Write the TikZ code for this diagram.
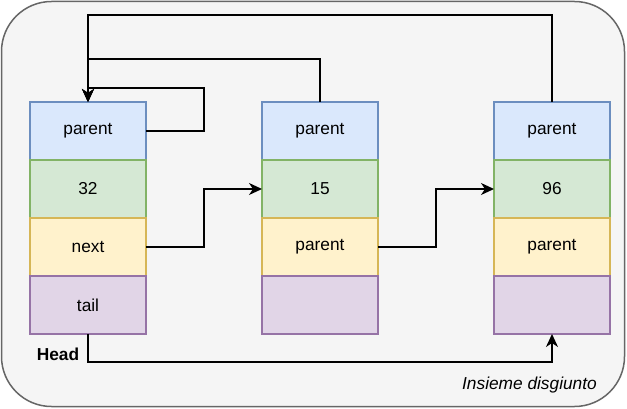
\documentclass[tikz,border=0pt]{standalone}
\usepackage{fontspec}
\setmainfont{Liberation Sans}
\usetikzlibrary{positioning,arrows.meta}
\definecolor{setfill}{HTML}{F5F5F5}
\definecolor{setline}{HTML}{666666}
\definecolor{bluefill}{HTML}{DAE8FC}
\definecolor{blueline}{HTML}{6C8EBF}
\definecolor{greenfill}{HTML}{D5E8D4}
\definecolor{greenline}{HTML}{82B366}
\definecolor{yellowfill}{HTML}{FFF2CC}
\definecolor{yellowline}{HTML}{D6B656}
\definecolor{purplefill}{HTML}{E1D5E7}
\definecolor{purpleline}{HTML}{9673A6}
\tikzstyle{cell} = [rectangle, minimum width=116pt, minimum height=58pt,
    inner sep=0, outer sep=0, line width=1.5pt, font=\fontsize{17.3}{20}\selectfont]
\tikzstyle{parentcell} = [cell, draw=blueline, fill=bluefill]
\tikzstyle{valuecell} = [cell, draw=greenline, fill=greenfill]
\tikzstyle{linkcell} = [cell, draw=yellowline, fill=yellowfill]
\tikzstyle{tailcell} = [cell, draw=purpleline, fill=purplefill]
\tikzstyle{setbox} = [draw=setline, fill=setfill, line width=1.5pt, rectangle,
    rounded corners=50pt, minimum width=623pt, minimum height=405pt, inner sep=0]
\tikzstyle{link} = [line width=1.5pt, -{Stealth[length=13pt,width=12pt,inset=4pt]}]

\begin{document}
\begin{tikzpicture}[x=1pt,y=1pt]
\useasboundingbox (0,0) rectangle (627,-409);
\node[setbox] (set) at (313,-204) {};

% first set element (head)
\node[parentcell] (p1) at (88,-131) {parent};
\node[valuecell, below=0pt of p1] (v1) {32};
\node[linkcell, below=0pt of v1] (n1) {next};
\node[tailcell, below=0pt of n1] (t1) {tail};

% second element
\node[parentcell] (p2) at (320,-131) {parent};
\node[valuecell, below=0pt of p2] (v2) {15};
\node[linkcell, below=0pt of v2] (n2) {parent};
\node[tailcell, below=0pt of n2] (t2) {};

% third element
\node[parentcell] (p3) at (552,-131) {parent};
\node[valuecell, below=0pt of p3] (v3) {96};
\node[linkcell, below=0pt of v3] (n3) {parent};
\node[tailcell, below=0pt of n3] (t3) {};

\node[font=\fontsize{17.3}{20}\selectfont\bfseries] (head) at (58,-354) {Head};
\node[anchor=east, inner sep=0, font=\fontsize{17.3}{20}\selectfont\itshape] (title) at (597,-385) {Insieme disgiunto};

% parent pointers
\draw[link] (p1.east) -- ++(58,0) -- ++(0,43) -| (p1.north);
\draw[link] (p2.north) -- ++(0,43) -| (p1.north);
\draw[link] (p3.north) -- ++(0,87) -| (p1.north);

% next pointers
\draw[link] (n1.east) -- ++(58,0) |- (v2.west);
\draw[link] (n2.east) -- ++(58,0) |- (v3.west);
\draw[link] (t1.south) -- ++(0,-28) -| (t3.south);
\end{tikzpicture}
\end{document}
